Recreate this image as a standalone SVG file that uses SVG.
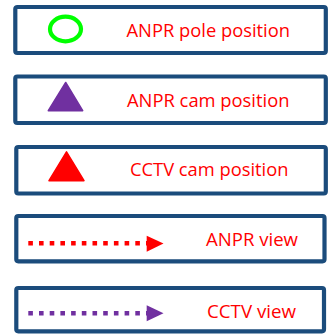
<svg xmlns="http://www.w3.org/2000/svg" width="333" height="335" viewBox="0 0 333 335">
  <defs>
    <style>
      .box { fill: #ffffff; stroke: #1B4C7C; stroke-width: 4.2; }
      .lbl { font-family: "Open Sans", "Liberation Sans", Arial, sans-serif; font-size: 18.5px; fill: #FF0000; }
      .dot { fill: none; stroke-width: 4.6; stroke-dasharray: 4.6 6.1; }
    </style>
  </defs>
  <rect width="333" height="335" fill="#ffffff"/>
  <g id="node-anpr-pole">
    <rect class="box" x="15.3" y="7" width="310.5" height="46" rx="2"/>
    <ellipse cx="65.5" cy="29" rx="15.5" ry="12.3" fill="none" stroke="#00FF00" stroke-width="4.2"/>
    <text class="lbl" x="126.5" y="37" textLength="163.5" lengthAdjust="spacingAndGlyphs">ANPR pole position</text>
  </g>
  <g id="node-anpr-cam">
    <rect class="box" x="15.3" y="76.5" width="310.5" height="46.5" rx="2"/>
    <path d="M65.7,82.5 L82.7,110.7 L48.3,110.7 Z" fill="#7030A0" stroke="#7030A0" stroke-width="1.5" stroke-linejoin="round"/>
    <text class="lbl" x="127" y="106.7" textLength="162.5" lengthAdjust="spacingAndGlyphs">ANPR cam position</text>
  </g>
  <g id="node-cctv-cam">
    <rect class="box" x="16.3" y="147" width="309.5" height="46.5" rx="2"/>
    <path d="M66.5,151.8 L84,180.7 L49,180.7 Z" fill="#FF0000" stroke="#FF0000" stroke-width="1.5" stroke-linejoin="round"/>
    <text class="lbl" x="130" y="175.7" textLength="158.5" lengthAdjust="spacingAndGlyphs">CCTV cam position</text>
  </g>
  <g id="node-anpr-view">
    <rect class="box" x="16.3" y="216" width="308.2" height="45.3" rx="2"/>
    <text class="lbl" x="206" y="245.5" textLength="92" lengthAdjust="spacingAndGlyphs">ANPR view</text>
  </g>
  <g id="node-cctv-view">
    <rect class="box" x="16.3" y="288" width="307.7" height="43.3" rx="2"/>
    <text class="lbl" x="207" y="318.3" textLength="89" lengthAdjust="spacingAndGlyphs">CCTV view</text>
  </g>
  <g id="connectors">
    <line class="dot" x1="28.3" y1="243.3" x2="147" y2="243.3" stroke="#FF0000"/>
    <path d="M146.7,235.8 L163.5,243.6 L146.7,251.7 Z" fill="#FF0000"/>
    <line class="dot" x1="28.3" y1="313.3" x2="147" y2="313.3" stroke="#7030A0"/>
    <path d="M146.7,305.3 L163.5,313.3 L146.7,321.2 Z" fill="#7030A0"/>
  </g>
</svg>
